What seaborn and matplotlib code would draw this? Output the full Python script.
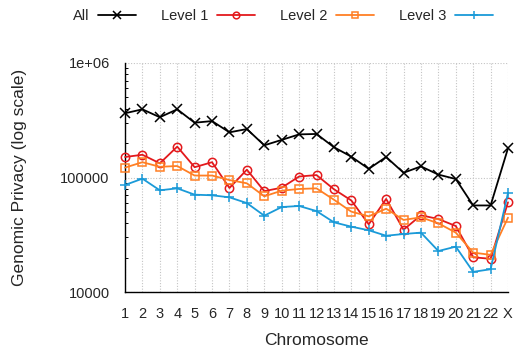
import numpy as np
import pandas as pd
import matplotlib
matplotlib.use("Agg")
import matplotlib.pyplot as plt
from matplotlib.ticker import LogLocator, NullFormatter, FixedLocator
import seaborn as sns

# Chromosomes and genomic privacy per sensitivity level
chromosomes = [str(i) for i in range(1, 23)] + ["X"]
all_levels = [364000, 394000, 336000, 394000, 301000, 311000, 248000, 265000,
              191000, 213000, 238000, 240000, 184000, 152000, 119000, 151000,
              110000, 125000, 106000, 97000, 57000, 57000, 180000]
level1 = [151000, 158000, 133000, 186000, 123000, 136000, 81000, 117000,
          76000, 81500, 102000, 105000, 79000, 63000, 39000, 65000,
          35000, 46800, 43400, 37700, 20100, 19500, 60700]
level2 = [122000, 136000, 124000, 126000, 104000, 104000, 95000, 89000,
          68500, 76700, 79400, 80400, 64000, 50300, 45800, 53400,
          42600, 44900, 39800, 33000, 22100, 21100, 44600]
level3 = [86000, 97700, 77300, 80400, 70800, 69900, 67100, 59800,
          46400, 55200, 56400, 50900, 40600, 37200, 34600, 31000,
          32100, 33000, 22800, 24900, 15000, 15800, 73200]
series_names = ["All", "Level 1", "Level 2", "Level 3"]

sns.set_style("white")
plt.rcParams["font.family"] = ["Liberation Sans", "DejaVu Sans"]

positions = np.arange(1, len(chromosomes) + 1)
df = pd.DataFrame({
    "pos": np.tile(positions, 4),
    "value": all_levels + level1 + level2 + level3,
    "series": np.repeat(series_names, len(chromosomes)),
})

colors = ["#000000", "#e3191c", "#ff7f24", "#1a9ad8"]
markers = ["x", "o", "s", "+"]

fig = plt.figure(figsize=(5.18, 3.56), dpi=100)
ax = fig.add_axes([125 / 518, 1 - 292 / 356, 383 / 518, 229 / 356])

for name, col, mk in zip(series_names, colors, markers):
    sub = df[df["series"] == name]
    sns.lineplot(data=sub, x="pos", y="value", ax=ax, color=col, lw=1.3,
                 marker=mk, markersize=6 if mk in ("o", "s") else 6.5,
                 markerfacecolor="none" if mk in ("o", "s") else col,
                 markeredgecolor=col, markeredgewidth=1.1,
                 label=name, clip_on=False, zorder=3)

ax.set_yscale("log")
ax.set_ylim(10000, 1e6)
ax.set_xlim(1, 23)
ax.set_xticks(positions)
ax.set_xticklabels(chromosomes)
ax.yaxis.set_major_locator(FixedLocator([1e4, 1e5, 1e6]))
ax.set_yticklabels(["10000", "100000", "1e+06"])
ax.yaxis.set_minor_locator(LogLocator(base=10, subs=np.arange(2, 10)))
ax.yaxis.set_minor_formatter(NullFormatter())

ax.grid(True, which="major", color="#c4c4c4", linestyle=(0, (1, 1.5)), lw=0.8)
for s in ("top", "right"):
    ax.spines[s].set_visible(False)
for s in ("left", "bottom"):
    ax.spines[s].set_color("black")
    ax.spines[s].set_linewidth(1.0)

ax.tick_params(axis="both", which="major", direction="in", length=4,
               width=0.8, color="black", labelsize=10.5, pad=11)
ax.tick_params(axis="y", which="minor", direction="in", length=2.5,
               width=0.7, color="black", left=True)
ax.tick_params(axis="x", which="major", length=3)

ax.set_xlabel("Chromosome", fontsize=12.5)
ax.set_ylabel("Genomic Privacy (log scale)", fontsize=12.5)
ax.xaxis.set_label_coords(0.5, -0.18)
ax.yaxis.set_label_coords(-0.255, 0.5)

ax.get_legend().remove()
handles, labels = ax.get_legend_handles_labels()
fig.legend(handles, labels, loc="center", bbox_to_anchor=(283 / 518, 1 - 16 / 356),
           ncol=4, frameon=False, markerfirst=False, fontsize=10.5,
           handlelength=2.6, handletextpad=0.6, columnspacing=1.7,
           markerscale=0.8)

fig.savefig("out.png", dpi=100)
